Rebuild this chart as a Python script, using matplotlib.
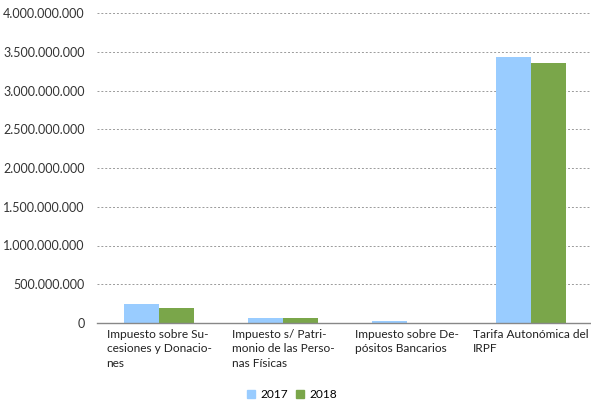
import matplotlib.pyplot as plt
import matplotlib.ticker as mticker
from matplotlib.patches import Patch
import numpy as np

plt.rcParams['font.family'] = ['Lato', 'DejaVu Sans']

categories = [
    "Impuesto sobre Su-\ncesiones y Donacio-\nnes",
    "Impuesto s/ Patri-\nmonio de las Perso-\nnas Físicas",
    "Impuesto sobre De-\npósitos Bancarios",
    "Tarifa Autonómica del\nIRPF",
]
vals_2017 = [245e6, 65e6, 26e6, 3430e6]
vals_2018 = [194e6, 65e6, 4e6, 3355e6]
yticks = np.arange(0, 4.0e9 + 1, 0.5e9)

blue = '#99CCFF'
green = '#7AA64A'

fig = plt.figure(figsize=(5.91, 4.05), dpi=100)
ax = fig.add_axes([97 / 591, 1 - 323 / 405, 494 / 591, 310 / 405])

x = np.arange(len(categories))
w = 0.28
ax.bar(x - w / 2, vals_2017, w, color=blue, zorder=3)
ax.bar(x + w / 2, vals_2018, w, color=green, zorder=3)

ax.set_xlim(-0.5, 3.484)
ax.set_ylim(0, 4.0e9)
ax.set_yticks(yticks)
ax.yaxis.set_major_formatter(mticker.FuncFormatter(
    lambda v, p: f"{int(round(v)):,}".replace(",", ".")))
ax.tick_params(axis='y', length=0, pad=9, labelsize=9, colors='#333333')
ax.set_xticks([])
ax.grid(axis='y', color='#9A9A9A', linestyle=(0, (2, 2)), linewidth=0.7, zorder=0)

for s in ['top', 'right', 'left']:
    ax.spines[s].set_visible(False)
ax.spines['bottom'].set_color('#888888')
ax.spines['bottom'].set_linewidth(1)
ax.spines['bottom'].set_zorder(4)

for xi, lab in zip(x, categories):
    ax.text(xi, -0.018, lab, transform=ax.get_xaxis_transform(),
            ha='center', va='top', multialignment='left',
            fontsize=8.6, color='#222222', linespacing=1.42)

handles = [Patch(color=blue, label='2017'), Patch(color=green, label='2018')]
fig.legend(handles=handles, loc='center', bbox_to_anchor=(292 / 591, 1 - 395 / 405),
           ncol=2, frameon=False, fontsize=8.6, handlelength=0.65, handleheight=0.65,
           handletextpad=0.45, columnspacing=0.7)

fig.savefig('out.png', dpi=100)
